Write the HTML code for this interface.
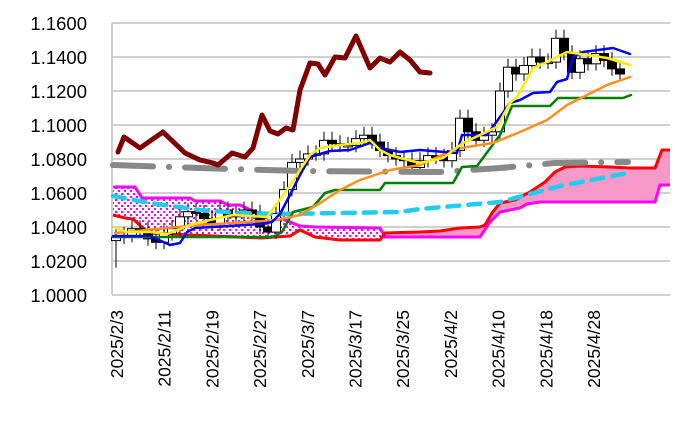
<!DOCTYPE html>
<html><head><meta charset="utf-8"><style>
body{margin:0;background:#fff;}
svg{display:block;font-family:"Liberation Sans",sans-serif;}
</style></head><body>
<svg id="s" width="675" height="429" viewBox="0 0 675 429" xmlns="http://www.w3.org/2000/svg">
<defs>
<pattern id="dots" width="6" height="6" patternUnits="userSpaceOnUse">
<rect width="6" height="6" fill="#fff"/><rect x="1" y="1" width="2" height="2" fill="#ff00ff"/><rect x="4" y="4" width="2" height="2" fill="#ff00ff"/>
</pattern>
</defs>
<g id="grid"></g>
<g id="cloud"></g>
<g id="candles"></g>
<g id="lines"></g>
<g id="labels" font-size="18.5" fill="#000"></g>
</svg>
<script>
const NS="http://www.w3.org/2000/svg";
function el(p,t,a,txt){const e=document.createElementNS(NS,t);for(const k in a)e.setAttribute(k,a[k]);if(txt!==undefined)e.textContent=txt;document.getElementById(p).appendChild(e);return e;}
const Y=p=>295-(p-1)*1700;
for(let i=0;i<=8;i++){const y=295-34*i;el('grid','line',{x1:112,x2:670,y1:y,y2:y,stroke:'#c0c0c0','stroke-width':1.5});
el('labels','text',{x:87,y:y+7,'text-anchor':'end'},(1+i*0.02).toFixed(4));}
el('grid','line',{x1:112,x2:112,y1:23,y2:295,stroke:'#c0c0c0','stroke-width':1.5});
const dl=['2025/2/3','2025/2/11','2025/2/19','2025/2/27','2025/3/7','2025/3/17','2025/3/25','2025/4/2','2025/4/10','2025/4/18','2025/4/28'];
dl.forEach((d,k)=>{const x=117+47.7*k;el('labels','text',{transform:`translate(${x+6},310) rotate(-90)`,'text-anchor':'end','font-size':17.5},d);});
const pts=a=>a.map(p=>p.join(',')).join(' ');
const mag1=[[113,187],[135,187],[142,198],[190,198],[195,201],[220,201],[228,205],[240,205],[255,212],[270,214],[290,222],[300,226]];
const red1=[[300,230],[290,236],[275,237],[262,238],[190,235],[150,233],[143,228],[133,219],[125,218],[113,215]];
el('cloud','polygon',{points:pts(mag1.concat(red1)),fill:'url(#dots)'});
const mag2=[[300,226],[315,227],[380,228],[385,236]];
const red2=[[385,233],[380,240],[340,240],[315,237],[300,230]];
el('cloud','polygon',{points:pts(mag2.concat(red2)),fill:'url(#dots)'});
const redR=[[385,233],[420,232],[440,231],[460,228],[480,227],[485,225],[492,213],[500,203],[515,200],[530,192],[545,182],[555,172],[565,167],[580,166],[610,167],[630,168],[655,168],[662,150],[670,150]];
const magR=[[385,237],[440,237],[480,237],[490,222],[500,212],[520,208],[527,204],[540,202],[560,202],[655,202],[660,185],[670,185]];
el('cloud','polygon',{points:pts(redR.concat(magR.slice().reverse())),fill:'#f799c8'});
const magAll=mag1.concat([[315,227],[380,228],[385,237],[440,237],[480,237],[490,222],[500,212],[520,208],[527,204],[540,202],[560,202],[655,202],[660,185],[670,185]]);
const redAll=red1.slice().reverse().concat([[315,237],[340,240],[380,240],[385,233]]).concat(redR.slice(1));
el('cloud','polyline',{points:pts(magAll),fill:'none',stroke:'#ff00ff','stroke-width':3});
el('cloud','polyline',{points:pts(redAll),fill:'none',stroke:'#ff0000','stroke-width':3});
const c=[1.034,1.035,1.039,1.038,1.033,1.031,1.036,1.039,1.046,1.049,1.048,1.045,1.042,1.050,1.046,1.047,1.050,1.048,1.040,1.037,1.048,1.062,1.078,1.080,1.083,1.083,1.091,1.089,1.088,1.088,1.092,1.094,1.090,1.085,1.082,1.080,1.079,1.075,1.079,1.082,1.081,1.079,1.085,1.104,1.096,1.091,1.094,1.096,1.120,1.134,1.130,1.135,1.140,1.137,1.137,1.151,1.142,1.131,1.139,1.136,1.142,1.138,1.133,1.130];
let prev=1.032;
c.forEach((cl,i)=>{const x=116+8*i;const o=prev;const hi=Math.max(o,cl)+0.005,lo=Math.min(o,cl)-(i==0?0.016:0.004);
el('candles','line',{x1:x,x2:x,y1:Y(hi),y2:Y(lo),stroke:'#000','stroke-width':1});
const top=Y(Math.max(o,cl)),h=Math.max(1.5,Math.abs(Y(o)-Y(cl)));
el('candles','rect',{x:x-4.5,y:top,width:9,height:h,fill:cl<o?'#000':'#fff',stroke:'#000','stroke-width':1});prev=cl;});
function L(a,col,w,dash){const o={points:pts(a),fill:'none',stroke:col,'stroke-width':w,'stroke-linejoin':'round','stroke-linecap':'round'};if(dash){o['stroke-dasharray']=dash;}el('lines','polyline',o);}
L([[113,165],[200,168],[300,171],[440,172],[500,168],[555,163],[628,162]],'#888',6,'40 16 0.1 16');
L([[113,196],[150,203],[200,210],[240,213],[280,214],[400,212],[420,209],[500,202],[560,186],[628,173]],'#22ccee',4.5,'12 9');
L([[113,237],[150,237],[273,237],[282,232],[293,212],[313,207],[325,193],[335,190],[380,190],[385,183],[453,183],[462,167],[477,166],[500,135],[512,106],[550,106],[558,98],[623,98],[631,95]],'#008000',2.5);
L([[115,233],[167,228],[200,225],[233,223],[277,220],[300,215],[320,203],[340,190],[360,180],[390,170],[420,165],[453,150],[467,147],[493,143],[520,132],[547,120],[567,105],[587,95],[607,85],[630,77]],'#ff9020',2.5);
L([[113,236],[150,236],[170,245],[180,243],[187,232],[195,228],[230,226],[260,224],[272,222],[280,214],[290,195],[300,175],[310,157],[330,151],[350,150],[370,143],[385,149],[400,152],[420,150],[457,153],[462,135],[487,135],[510,103],[520,100],[533,93],[550,92],[557,82],[567,79],[573,57],[583,52],[613,48],[630,54]],'#0000ff',2.5);
L([[115,228],[127,232],[150,232],[167,234],[190,225],[210,220],[233,215],[267,217],[287,190],[300,170],[310,155],[320,148],[340,145],[360,143],[370,140],[380,150],[390,155],[400,158],[420,163],[443,158],[463,143],[497,127],[510,103],[517,97],[533,68],[547,62],[567,52],[587,55],[607,58],[630,65]],'#ffee00',2.5);
L([[118,152],[124,137],[140,148],[163,132],[185,153],[200,160],[213,163],[218,165],[232,153],[245,157],[253,148],[262,115],[270,131],[278,134],[286,128],[293,130],[300,90],[310,63],[318,64],[325,75],[335,57],[345,58],[356,36],[370,68],[380,58],[390,62],[400,52],[410,60],[420,72],[430,73]],'#800000',5);
</script>
</body></html>
